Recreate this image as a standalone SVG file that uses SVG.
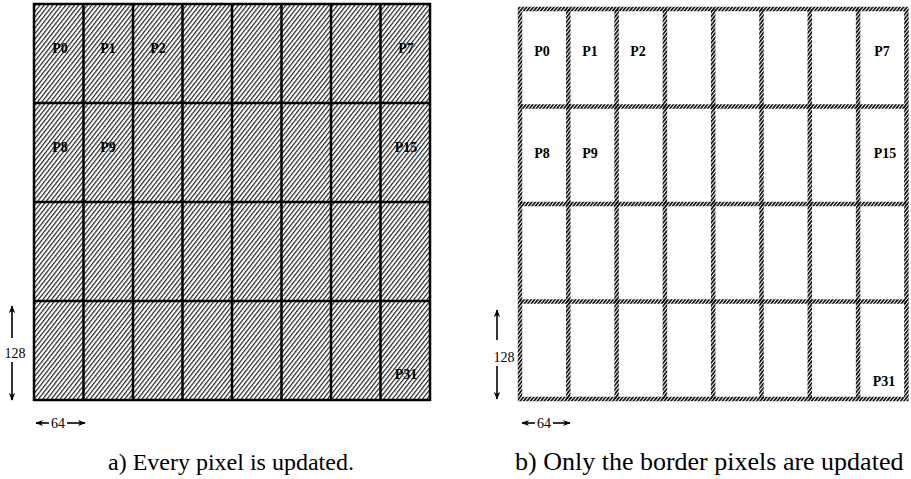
<svg xmlns="http://www.w3.org/2000/svg" width="911" height="479" viewBox="0 0 911 479">
<style>
.lbl{font-family:"Liberation Serif",serif;font-size:14px;font-weight:bold;fill:#000;text-anchor:middle}
.dim{font-family:"Liberation Serif",serif;font-size:14px;fill:#000;text-anchor:middle}
.cap{font-family:"Liberation Serif",serif;fill:#000}
.ga{stroke:#000;stroke-width:2.5;fill:none}
.gb{stroke:url(#hb);stroke-width:4.5;fill:none}
.ar{stroke:#000;stroke-width:1.6;fill:none}
</style>
<defs>
<pattern id="ha" patternUnits="userSpaceOnUse" width="3.4" height="6" patternTransform="rotate(38)">
<rect width="3.4" height="6" fill="#fff"/>
<rect x="0" y="0" width="1.15" height="6" fill="#1a1a1a"/>
</pattern>
<pattern id="hb" patternUnits="userSpaceOnUse" width="2.7" height="6" patternTransform="rotate(38)">
<rect x="0" y="0" width="1.6" height="6" fill="#000"/>
</pattern>
<marker id="ah" viewBox="0 0 10 10" refX="9" refY="5" markerWidth="8" markerHeight="8" orient="auto-start-reverse" markerUnits="userSpaceOnUse">
<path d="M0,1 L10,5 L0,9 L3,5 Z" fill="#000"/>
</marker>
</defs>
<rect width="911" height="479" fill="#fff"/>
<g id="panel-a">
<rect x="34" y="4" width="396" height="396" fill="url(#ha)"/>
<g class="ga">
<rect x="34" y="4" width="396" height="396"/>
<path d="M83.5,4V400M133,4V400M182.5,4V400M232,4V400M281.5,4V400M331,4V400M380.5,4V400"/>
<path d="M34,103H430M34,202H430M34,301H430"/>
</g>
<text class="lbl" x="60" y="53">P0</text>
<text class="lbl" x="108" y="53">P1</text>
<text class="lbl" x="158" y="53">P2</text>
<text class="lbl" x="406" y="53">P7</text>
<text class="lbl" x="60" y="152">P8</text>
<text class="lbl" x="108" y="152">P9</text>
<text class="lbl" x="406" y="152">P15</text>
<text class="lbl" x="406" y="379">P31</text>
</g>
<g id="panel-b">
<g class="gb">
<rect x="520" y="9" width="386.4" height="390"/>
<path d="M568.3,9V399M616.6,9V399M664.9,9V399M713.2,9V399M761.5,9V399M809.8,9V399M858.1,9V399"/>
<path d="M520,106.5H906.4M520,204H906.4M520,301.5H906.4"/>
</g>
<text class="lbl" x="542" y="56">P0</text>
<text class="lbl" x="590" y="56">P1</text>
<text class="lbl" x="638" y="56">P2</text>
<text class="lbl" x="882" y="56">P7</text>
<text class="lbl" x="542" y="158">P8</text>
<text class="lbl" x="590" y="158">P9</text>
<text class="lbl" x="885" y="158">P15</text>
<text class="lbl" x="884" y="386">P31</text>
</g>
<g id="connectors">
<path class="ar" d="M12,338V306" marker-end="url(#ah)"/>
<path class="ar" d="M12,362V400" marker-end="url(#ah)"/>
<path class="ar" d="M36,423H49" marker-start="url(#ah)"/>
<path class="ar" d="M67,423H85" marker-end="url(#ah)"/>
<path class="ar" d="M497,340V310" marker-end="url(#ah)"/>
<path class="ar" d="M497,366V399" marker-end="url(#ah)"/>
<path class="ar" d="M522,423H535" marker-start="url(#ah)"/>
<path class="ar" d="M553,423H570" marker-end="url(#ah)"/>
</g>
<g id="texts">
<text class="dim" x="15" y="358">128</text>
<text class="dim" x="58" y="428">64</text>
<text class="dim" x="504" y="362">128</text>
<text class="dim" x="544" y="428">64</text>
<text class="cap" x="108" y="470" font-size="24">a) Every pixel is updated.</text>
<text class="cap" x="515" y="470" font-size="26">b) Only the border pixels are updated</text>
</g>
</svg>
